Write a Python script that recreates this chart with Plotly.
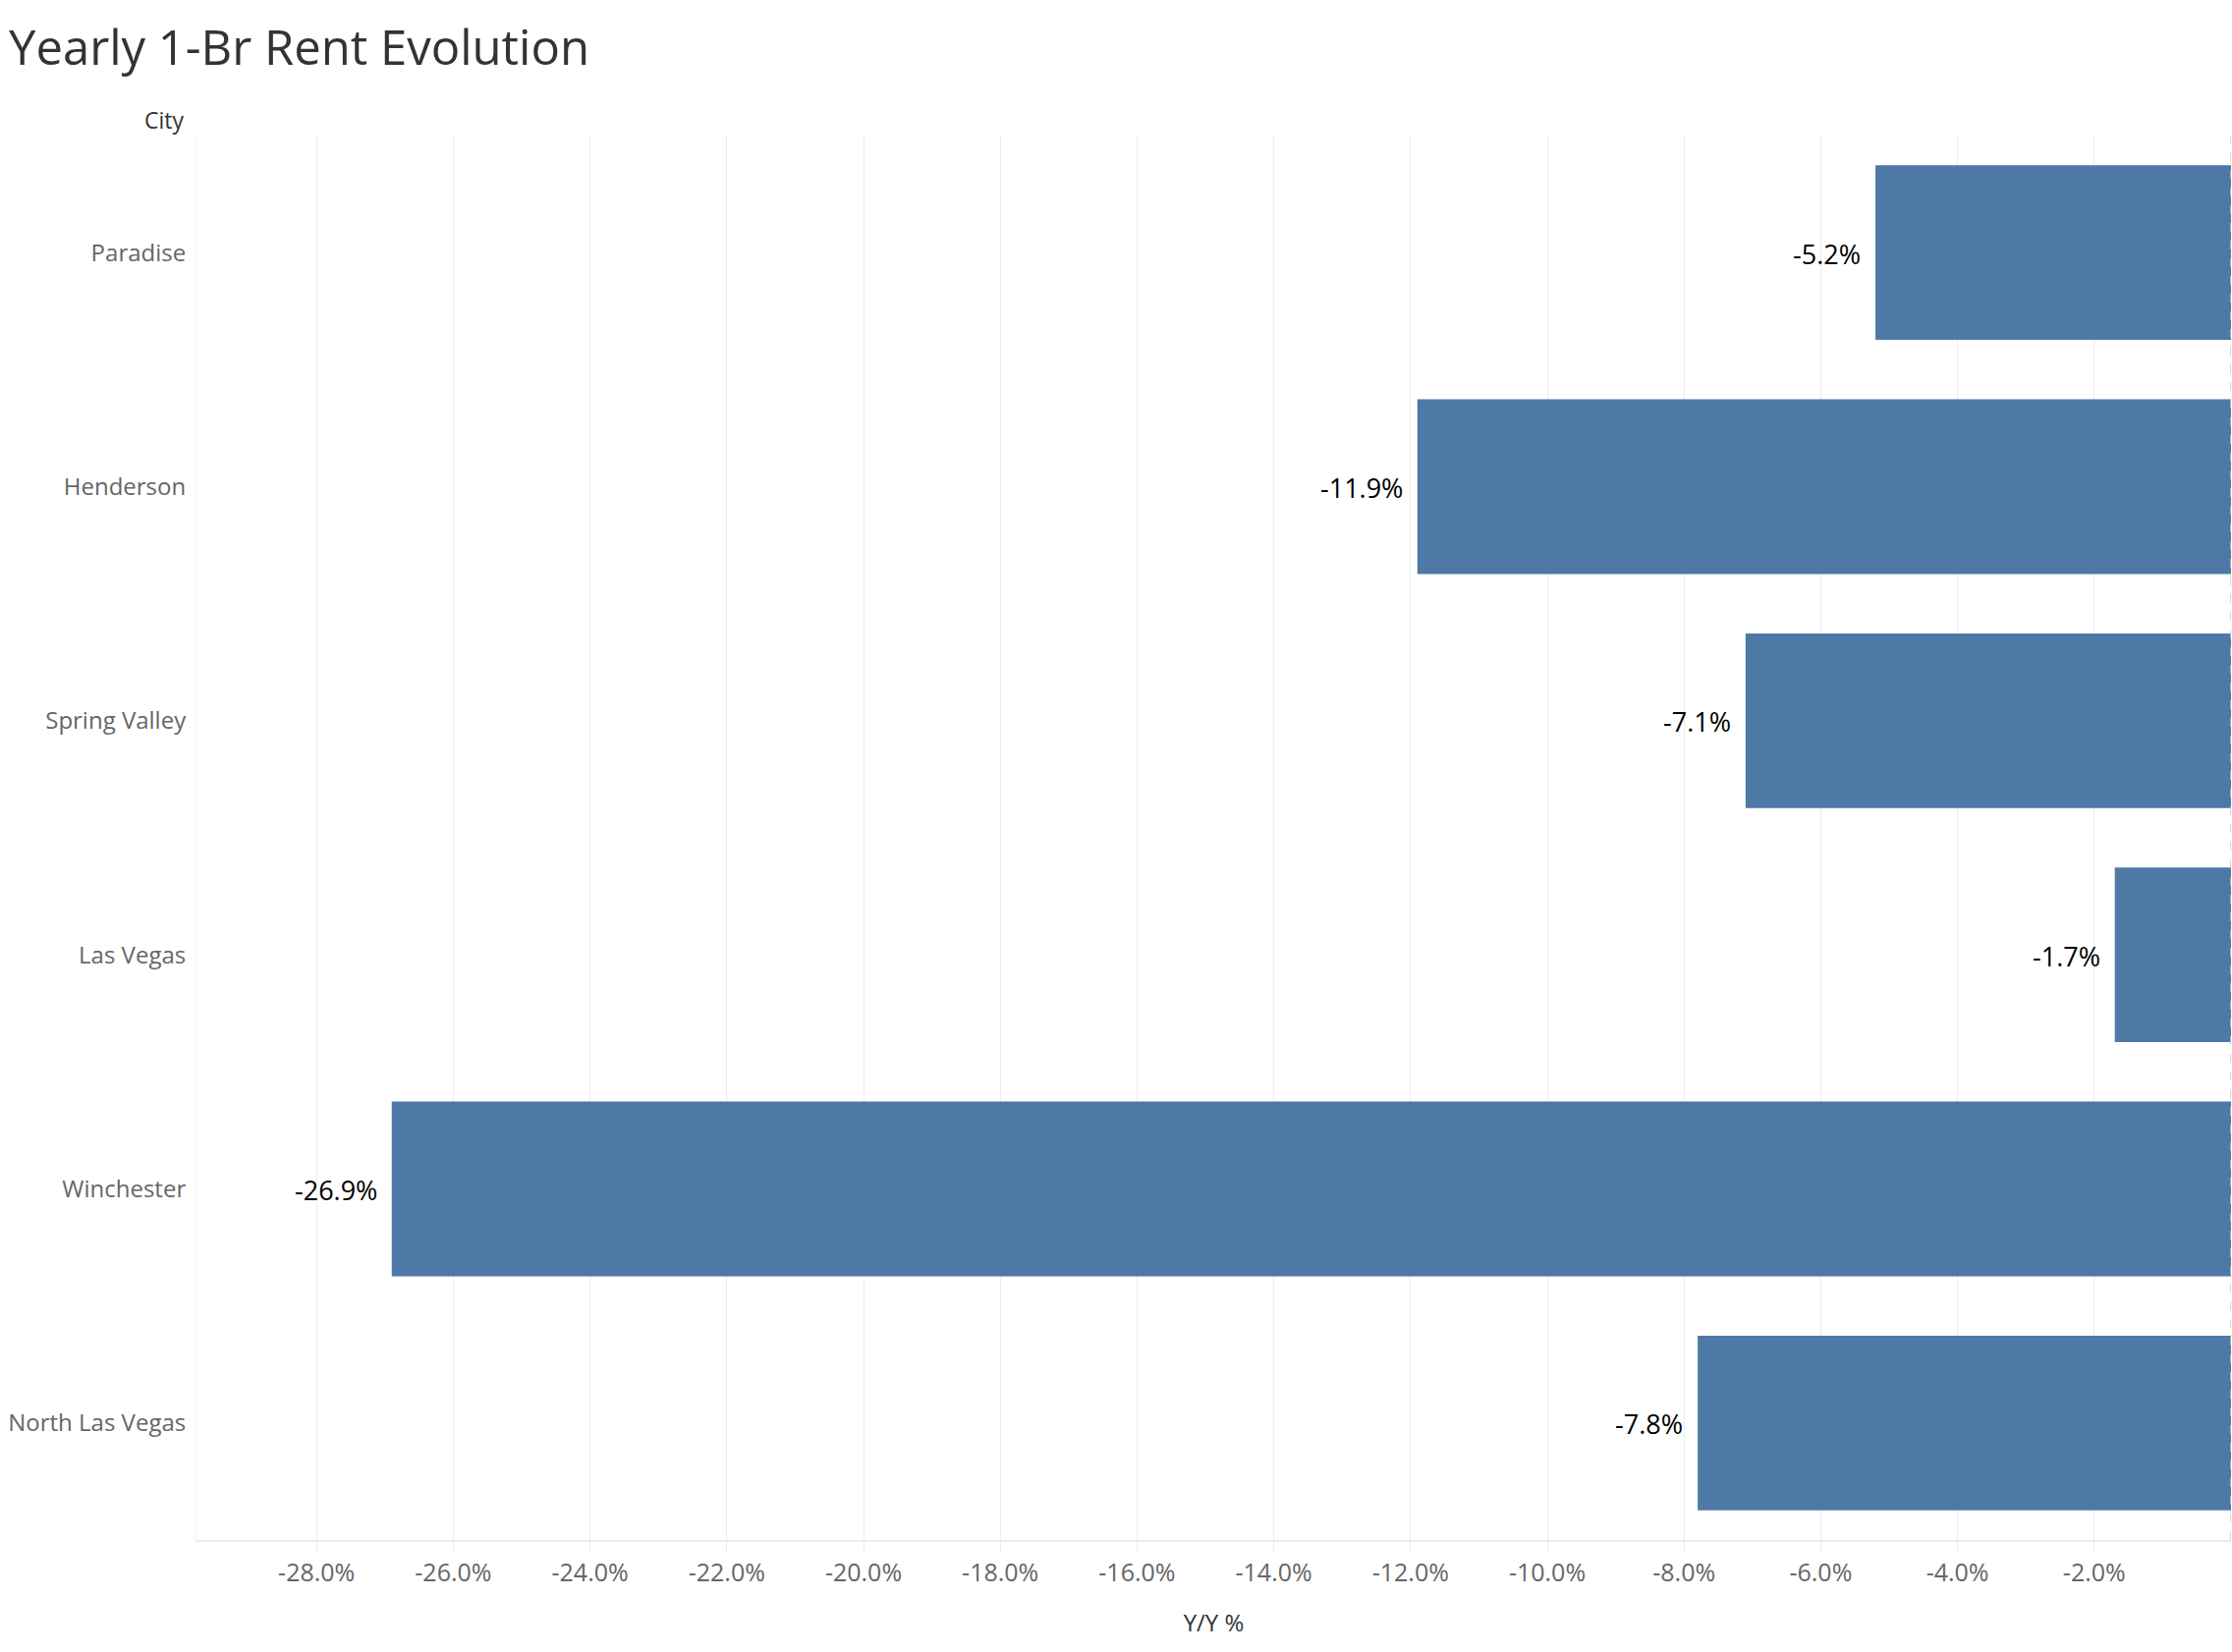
import plotly.graph_objects as go

cities = ["Paradise", "Henderson", "Spring Valley", "Las Vegas", "Winchester", "North Las Vegas"]
yoy_pct = [-5.2, -11.9, -7.1, -1.7, -26.9, -7.8]
tick_vals = [-28, -26, -24, -22, -20, -18, -16, -14, -12, -10, -8, -6, -4, -2]
tick_text = ["%.1f%%" % v for v in tick_vals]
value_labels = ["%.1f%%" % v for v in yoy_pct]

FONT = "Open Sans"
W, H = 2272, 1682
L, R, T, B = 200, 1, 138, 114
PH = H - T - B
PW = W - L - R

fig = go.Figure()
fig.add_trace(go.Bar(
    x=yoy_pct, y=cities, orientation="h",
    marker=dict(color="#4e79a7", line=dict(width=0)),
    width=0.746, hoverinfo="skip",
))

for c, v, lab in zip(cities, yoy_pct, value_labels):
    fig.add_annotation(x=v, y=c, xref="x", yref="y", text=lab, showarrow=False,
                       xanchor="right", yanchor="middle", xshift=-13, yshift=-1,
                       font=dict(family=FONT, size=27, color="#000000"))

fig.add_vline(x=0, line=dict(color="#c8c8c8", width=1.5, dash="dash"))

fig.add_annotation(x=(189 - L) / PW, y=(H - B - 122) / PH, xref="paper", yref="paper",
                   text="City", showarrow=False, xanchor="right", yanchor="middle",
                   font=dict(family=FONT, size=23, color="#333333"))

px_per = 69.6
x_left = -(PW / px_per)

fig.update_layout(
    width=W, height=H,
    margin=dict(l=L, r=R, t=T, b=B, pad=0),
    paper_bgcolor="white", plot_bgcolor="white",
    showlegend=False,
    title=dict(text="Yearly 1-Br Rent Evolution", x=9 / W, xanchor="left", xref="container",
               y=1 - 49 / H, yanchor="middle", yref="container",
               font=dict(family=FONT, size=49, color="#333333")),
    xaxis=dict(range=[x_left, 0], tickvals=tick_vals, ticktext=tick_text,
               showgrid=True, gridcolor="#ececec", gridwidth=1.3,
               zeroline=False, showline=True, linecolor="#ececec", linewidth=1.5,
               ticks="outside", ticklen=10, tickcolor="#ececec", tickwidth=1.3,
               tickfont=dict(family=FONT, size=25, color="#666666"),
               title=dict(text="Y/Y %", standoff=28, font=dict(family=FONT, size=24, color="#333333"))),
    yaxis=dict(categoryorder="array", categoryarray=cities, autorange="reversed",
               showgrid=False, zeroline=False, showline=True, linecolor="#f2f2f2", linewidth=1,
               ticks="", ticklabelstandoff=5,
               tickfont=dict(family=FONT, size=24, color="#666666")),
)

fig.write_html("out.html")
